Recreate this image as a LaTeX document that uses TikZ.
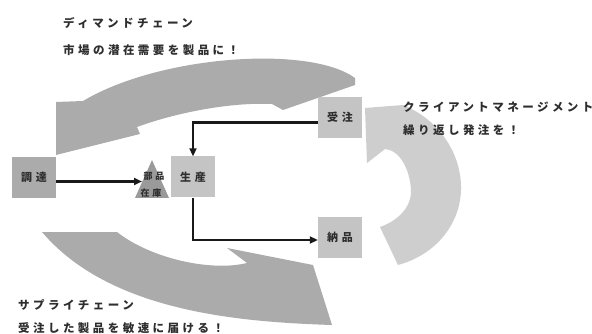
\documentclass[tikz,border=0pt]{standalone}
\usepackage{fontspec}
\newfontfamily\jp[LetterSpace=30]{Noto Sans CJK JP}
\newfontfamily\jpbox[LetterSpace=35]{Noto Sans CJK JP}
\usetikzlibrary{arrows.meta}
\definecolor{bandgray}{HTML}{ABABAB}
\definecolor{lightband}{HTML}{CECECE}
\definecolor{boxa}{HTML}{ABABAB}
\definecolor{boxb}{HTML}{C4C4C4}
\definecolor{trigray}{HTML}{9A9A9A}
\definecolor{txtgray}{HTML}{2E2E2E}
\begin{document}
\begin{tikzpicture}[x=1pt,y=-1pt,
  box/.style={minimum width=44pt,minimum height=41pt,inner sep=0pt,
    font=\jpbox\bfseries\fontsize{11}{12}\selectfont,text=txtgray},
  conn/.style={line width=2.4pt,draw=black!90,-{Triangle[length=8pt,width=7pt]}},
  txt/.style={anchor=west,inner sep=0pt,font=\jp\bfseries\fontsize{11.5}{13}\selectfont,text=txtgray},
  small/.style={inner sep=0pt,font=\jp\bfseries\fontsize{9}{10}\selectfont,text=txtgray}]
\useasboundingbox (0,0) rectangle (592,334);
\fill[white] (0,0) rectangle (592,334);
% demand chain band (top)
\fill[bandgray] (355,78) .. controls (310,45) and (160,55) .. (83,101)
  -- (56,102) -- (56,155) -- (140,134) -- (137,127)
  .. controls (175,113) and (230,102) .. (272,104)
  -- (283,110) -- (355,85) -- cycle;
% supply chain band (bottom)
\fill[bandgray] (42,232) -- (117,232)
  .. controls (150,258) and (210,272) .. (247,263)
  -- (227,248) -- (313,265) -- (332,325)
  .. controls (240,322) and (110,312) .. (42,232) -- cycle;
% client management band (right)
\fill[lightband] (365,108) -- (403,105)
  .. controls (440,120) and (462,155) .. (461,190)
  .. controls (460,225) and (435,255) .. (398,265)
  -- (380,227)
  .. controls (400,220) and (412,205) .. (411,190)
  .. controls (410,170) and (400,150) .. (385,149)
  -- (367,163) -- cycle;
% boxes
\node[box,fill=boxa] (cho) at (34,177.5) {調達};
\node[box,fill=boxb] (sei) at (193,177) {生産};
\node[box,fill=boxb] (jc) at (340,117.5) {受注};
\node[box,fill=boxb] (nou) at (340,237) {納品};
% inventory triangle
\fill[trigray] (152,160) -- (169,198) -- (135,198) -- cycle;
\coordinate (tl) at (142,181.5);
\node[small] (bu) at (154,176) {部品};
\node[small] (za) at (151,193) {在庫};
% connectors
\draw[conn] ([yshift=-4pt]cho.east) -- (tl);
\draw[conn] ([yshift=-5pt]jc.west) -| (sei.north);
\draw[conn] (sei.south) |- ([yshift=-3pt]nou.west);
% texts
\node[txt] (t1) at (63,23) {ディマンドチェーン};
\node[txt] (t2) at (63,50) {市場の潜在需要を製品に！};
\node[txt] (t3) at (403,107) {クライアントマネージメント};
\node[txt] (t4) at (403,130) {繰り返し発注を！};
\node[txt] (t5) at (18,305) {サプライチェーン};
\node[txt] (t6) at (18,328) {受注した製品を敏速に届ける！};
\end{tikzpicture}
\end{document}
